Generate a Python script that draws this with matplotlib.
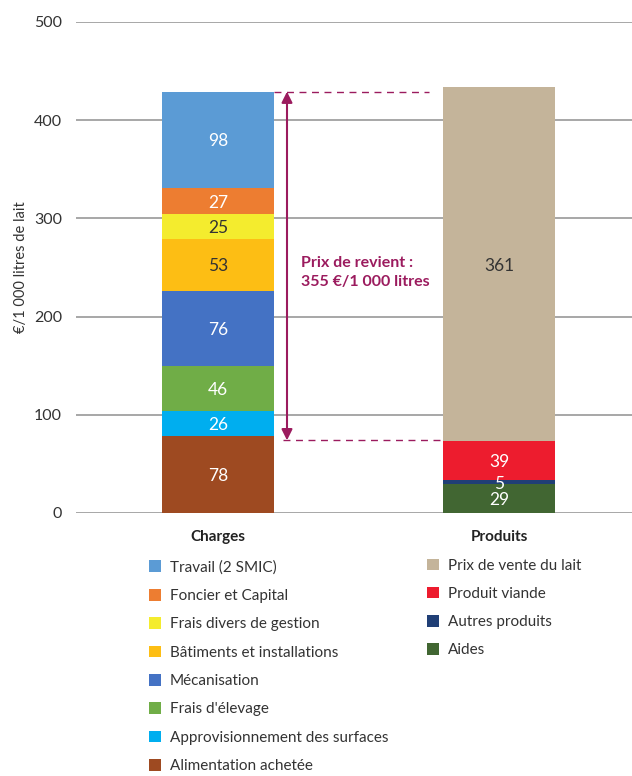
import matplotlib
matplotlib.use("Agg")
import matplotlib.pyplot as plt
from matplotlib.patches import FancyArrowPatch

plt.rcParams['font.family'] = ['Lato', 'DejaVu Sans']

categories = ["Charges", "Produits"]
charges_labels = ["Alimentation achetée", "Approvisionnement des surfaces", "Frais d'élevage",
                  "Mécanisation", "Bâtiments et installations", "Frais divers de gestion",
                  "Foncier et Capital", "Travail (2 SMIC)"]
charges_values = [78, 26, 46, 76, 53, 25, 27, 98]
charges_colors = ["#9E4A21", "#00AEEF", "#70AD47", "#4472C4", "#FDBE14", "#F4EC2E",
                  "#ED7D31", "#5B9BD5"]
charges_text = ["white", "white", "white", "white", "#333333", "#333333", "white", "white"]

produits_labels = ["Aides", "Autres produits", "Produit viande", "Prix de vente du lait"]
produits_values = [29, 5, 39, 361]
produits_colors = ["#416632", "#203F76", "#ED1C2E", "#C4B49A"]
produits_text = ["white", "white", "white", "#333333"]

prix_revient = 355
yticks = [0, 100, 200, 300, 400, 500]

fig = plt.figure(figsize=(6.32, 7.76), dpi=100)
ax = fig.add_axes([0.120, 0.339, 0.880, 0.6327])
ax.set_xlim(-0.505, 1.473)
ax.set_ylim(0, 500)

bw = 0.4
charge_handles = []
bottom = 0
for v, c, lab, tc in zip(charges_values, charges_colors, charges_labels, charges_text):
    b = ax.bar(0, v, bw, bottom=bottom, color=c, label=lab, zorder=3)
    charge_handles.append(b)
    ax.text(0, bottom + v / 2, str(v), ha='center', va='center_baseline', color=tc,
            fontsize=12.5, zorder=4)
    bottom += v
charges_total = bottom

prod_handles = []
bottom = 0
for v, c, lab, tc in zip(produits_values, produits_colors, produits_labels, produits_text):
    b = ax.bar(1, v, bw, bottom=bottom, color=c, label=lab, zorder=3)
    prod_handles.append(b)
    ax.text(1, bottom + v / 2, str(v), ha='center', va='center_baseline', color=tc,
            fontsize=12.5, zorder=4)
    bottom += v

# grid
ax.set_yticks(yticks)
ax.yaxis.grid(True, color='#A0A0A0', linewidth=1.3, zorder=0)
ax.set_axisbelow(True)
for s in ax.spines.values():
    s.set_visible(False)
ax.tick_params(axis='y', length=0, pad=10, labelsize=11.5, labelcolor='#333333')
ax.set_xticks([0, 1])
ax.set_xticklabels(categories, fontweight='bold', fontsize=11, color='#222222')
ax.tick_params(axis='x', length=0, pad=12)
ax.set_ylabel("€/1 000 litres de lait", fontsize=10.5, color='#333333', labelpad=4)

# prix de revient annotation
accent = "#9B1B5E"
top = charges_total
low = charges_total - prix_revient
ax.plot([bw / 2, 0.75], [top, top], ls=(0, (5, 4)), color=accent, lw=1, zorder=2)
ax.plot([0.23, 1 - bw / 2], [low, low], ls=(0, (5, 4)), color=accent, lw=1, zorder=2)
arr = FancyArrowPatch((0.246, low), (0.246, top), arrowstyle='<|-|>', mutation_scale=16,
                      color=accent, lw=1.5, zorder=5, shrinkA=0, shrinkB=0)
ax.add_patch(arr)
ax.text(0.295, 245, "Prix de revient :\n355 €/1 000 litres", ha='left', va='center',
        fontsize=11.5, fontweight='bold', color=accent, linespacing=1.45)

# legends
h1 = [charge_handles[i] for i in range(len(charge_handles) - 1, -1, -1)]
l1 = charges_labels[::-1]
leg1 = fig.legend(h1, l1, loc='upper left', bbox_to_anchor=(0.236, 0.278), frameon=False,
                  fontsize=11, handlelength=0.8, handleheight=0.8, handletextpad=0.55,
                  labelspacing=0.93, labelcolor='#333333', borderpad=0, borderaxespad=0)
h2 = [prod_handles[i] for i in range(len(prod_handles) - 1, -1, -1)]
l2 = produits_labels[::-1]
leg2 = fig.legend(h2, l2, loc='upper left', bbox_to_anchor=(0.676, 0.280), frameon=False,
                  fontsize=11, handlelength=0.8, handleheight=0.8, handletextpad=0.55,
                  labelspacing=0.91, labelcolor='#333333', borderpad=0, borderaxespad=0)

fig.savefig("out.png", dpi=100)
